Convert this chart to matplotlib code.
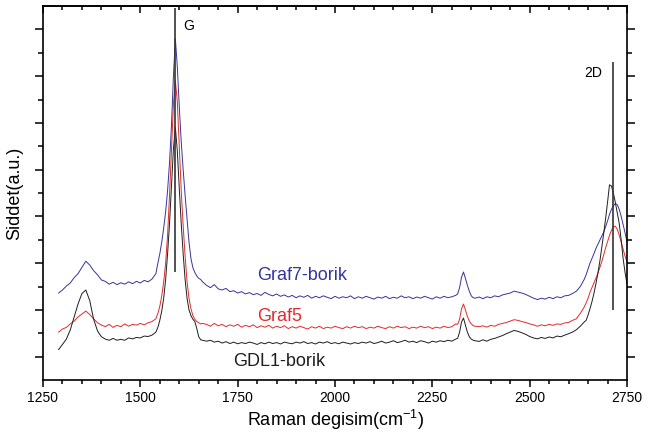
import numpy as np
import matplotlib
matplotlib.use("Agg")
import matplotlib.pyplot as plt
from matplotlib.ticker import MultipleLocator, FixedLocator

plt.rcParams['font.family'] = ['Liberation Sans', 'DejaVu Sans']
plt.rcParams['mathtext.fontset'] = 'custom'
plt.rcParams['mathtext.rm'] = 'Liberation Sans'

# Raman shift grid (cm^-1)
wavenumber = [
    1290, 1300, 1310, 1320, 1330, 1340, 1350, 1360, 1370, 1380, 1390, 1400, 1410,
    1420, 1430, 1440, 1450, 1460, 1470, 1480, 1490, 1500, 1510, 1520, 1530, 1540,
    1545, 1550, 1555, 1560, 1565, 1570, 1575, 1580, 1585, 1590, 1595, 1600, 1605,
    1610, 1615, 1620, 1625, 1630, 1635, 1640, 1645, 1650, 1655, 1660,
    1670, 1680, 1690, 1700, 1710, 1720, 1730, 1740, 1750, 1760, 1770, 1780, 1790,
    1800, 1810, 1820, 1830, 1840, 1850, 1860, 1870, 1880, 1890, 1900, 1910, 1920,
    1930, 1940, 1950, 1960, 1970, 1980, 1990, 2000, 2010, 2020, 2030, 2040, 2050,
    2060, 2070, 2080, 2090, 2100, 2110, 2120, 2130, 2140, 2150, 2160, 2170, 2180,
    2190, 2200, 2210, 2220, 2230, 2240, 2250, 2260, 2270, 2280, 2290, 2300, 2310,
    2315, 2320, 2325, 2330, 2335, 2340, 2345, 2350, 2355, 2360,
    2370, 2380, 2390, 2400, 2410, 2420, 2430, 2440, 2450, 2460, 2470, 2480, 2490,
    2500, 2510, 2520, 2530, 2540, 2550, 2560, 2570, 2580, 2590, 2600, 2610, 2620,
    2630, 2640,
    2645, 2650, 2655, 2660, 2665, 2670, 2675, 2680, 2685, 2690, 2695, 2700, 2705,
    2710, 2715, 2720, 2725, 2730, 2735, 2740, 2745, 2750,
]

graf7_borik = [
    3.72, 3.85, 4.02, 4.15, 4.38, 4.55, 4.82, 5.08, 4.92, 4.68, 4.50, 4.28, 4.22,
    4.10, 4.18, 4.08, 4.16, 4.10, 4.20, 4.12, 4.22, 4.15, 4.26, 4.20, 4.32, 4.55,
    5.00, 5.40, 5.90, 6.50, 7.20, 8.10, 9.30, 10.90, 13.00, 14.60, 13.40, 11.70, 10.20,
    9.00, 7.90, 6.90, 5.90, 5.20, 4.80, 4.60, 4.45, 4.35, 4.30, 4.20,
    4.05, 3.95, 4.08, 3.90, 3.85, 3.92, 3.78, 3.82, 3.72, 3.78, 3.68, 3.74, 3.65,
    3.70, 3.62, 3.75, 3.66, 3.60, 3.68, 3.58, 3.64, 3.55, 3.62, 3.52, 3.60, 3.54,
    3.62, 3.50, 3.58, 3.52, 3.60, 3.54, 3.48, 3.58, 3.50, 3.56, 3.52, 3.60, 3.48,
    3.56, 3.50, 3.58, 3.52, 3.46, 3.55, 3.50, 3.58, 3.48, 3.54, 3.50, 3.60, 3.52,
    3.56, 3.48, 3.55, 3.50, 3.58, 3.52, 3.46, 3.56, 3.50, 3.58, 3.52, 3.56, 3.62,
    3.68, 3.95, 4.40, 4.62, 4.35, 4.05, 3.80, 3.60, 3.52, 3.50,
    3.55, 3.48, 3.56, 3.52, 3.60, 3.56, 3.64, 3.68, 3.72, 3.80, 3.76, 3.72, 3.66,
    3.58, 3.50, 3.44, 3.50, 3.46, 3.54, 3.48, 3.56, 3.52, 3.60, 3.62, 3.70, 3.80,
    4.00, 4.30,
    4.50, 4.75, 5.00, 5.20, 5.40, 5.62, 5.80, 5.98, 6.15, 6.32, 6.55, 6.80, 7.08,
    7.30, 7.45, 7.55, 7.50, 7.30, 7.00, 6.65, 6.30, 5.90,
]

graf5 = [
    2.05, 2.18, 2.25, 2.40, 2.52, 2.70, 2.82, 2.95, 2.80, 2.62, 2.45, 2.35, 2.28,
    2.38, 2.25, 2.34, 2.28, 2.40, 2.30, 2.38, 2.35, 2.42, 2.36, 2.45, 2.50, 2.62,
    2.85, 3.15, 3.60, 4.20, 5.00, 6.20, 7.90, 9.80, 11.80, 12.80, 11.90, 10.00, 8.10,
    6.60, 5.30, 4.20, 3.50, 3.05, 2.75, 2.60, 2.50, 2.45, 2.40, 2.42,
    2.38, 2.30, 2.42, 2.32, 2.38, 2.28, 2.36, 2.30, 2.38, 2.26, 2.34, 2.28, 2.36,
    2.24, 2.32, 2.26, 2.34, 2.22, 2.30, 2.24, 2.32, 2.20, 2.28, 2.22, 2.30, 2.24,
    2.18, 2.28, 2.22, 2.30, 2.20, 2.26, 2.22, 2.30, 2.24, 2.20, 2.28, 2.22, 2.30,
    2.24, 2.28, 2.20, 2.26, 2.22, 2.30, 2.24, 2.20, 2.28, 2.22, 2.30, 2.24, 2.28,
    2.20, 2.26, 2.22, 2.30, 2.24, 2.28, 2.20, 2.26, 2.22, 2.30, 2.24, 2.28, 2.40,
    2.38, 2.60, 3.05, 3.25, 3.00, 2.72, 2.52, 2.40, 2.32, 2.30,
    2.28, 2.32, 2.26, 2.34, 2.30, 2.38, 2.42, 2.46, 2.52, 2.58, 2.55, 2.50, 2.46,
    2.40, 2.36, 2.30, 2.36, 2.32, 2.38, 2.34, 2.40, 2.38, 2.44, 2.46, 2.55, 2.62,
    2.85, 3.12,
    3.30, 3.50, 3.75, 3.95, 4.15, 4.35, 4.55, 4.80, 5.05, 5.35, 5.65, 5.92, 6.18,
    6.40, 6.55, 6.58, 6.45, 6.20, 5.90, 5.60, 5.30, 5.05,
]

gdl1_borik = [
    1.30, 1.52, 1.75, 2.14, 2.70, 3.25, 3.70, 3.85, 3.40, 2.60, 2.10, 1.85, 1.75,
    1.70, 1.78, 1.70, 1.74, 1.70, 1.80, 1.76, 1.82, 1.80, 1.88, 1.86, 1.92, 2.05,
    2.25, 2.55, 2.95, 3.50, 4.30, 5.40, 6.70, 8.30, 9.90, 10.80, 9.80, 8.20, 6.70,
    5.40, 4.30, 3.50, 3.00, 2.75, 2.60, 2.50, 2.20, 1.85, 1.72, 1.70,
    1.66, 1.70, 1.62, 1.66, 1.58, 1.64, 1.56, 1.62, 1.55, 1.60, 1.56, 1.62, 1.58,
    1.52, 1.60, 1.55, 1.62, 1.56, 1.60, 1.54, 1.62, 1.58, 1.55, 1.62, 1.58, 1.64,
    1.56, 1.60, 1.54, 1.62, 1.58, 1.64, 1.56, 1.60, 1.55, 1.62, 1.58, 1.54, 1.60,
    1.56, 1.62, 1.58, 1.64, 1.56, 1.60, 1.66, 1.58, 1.62, 1.68, 1.60, 1.64, 1.70,
    1.62, 1.66, 1.60, 1.68, 1.64, 1.58, 1.66, 1.62, 1.68, 1.64, 1.70, 1.66, 1.75,
    1.78, 2.05, 2.48, 2.65, 2.35, 2.05, 1.85, 1.75, 1.70, 1.68,
    1.65, 1.72, 1.66, 1.74, 1.78, 1.84, 1.90, 1.98, 2.05, 2.12, 2.08, 2.02, 1.95,
    1.86, 1.80, 1.76, 1.82, 1.78, 1.84, 1.80, 1.88, 1.85, 1.92, 1.98, 2.05, 2.15,
    2.30, 2.48,
    2.55, 2.78, 3.05, 3.35, 3.70, 4.10, 4.55, 5.05, 5.65, 6.25, 6.90, 7.60, 8.35,
    8.30, 8.00, 7.60, 7.15, 6.70, 6.00, 5.20, 4.60, 4.10,
]

series_names = ["Graf7-borik", "Graf5", "GDL1-borik"]
series_label_x = [1915, 1859, 1857]
series_label_y = [4.45, 2.71, 0.81]

band_names = ["G", "2D"]
band_positions = [1589, 2714]
band_line_bottom = [4.62, 3.0]
band_line_top = [15.9, 13.6]
band_label_x = [1610, 2686]
band_label_y = [15.15, 13.13]
band_label_ha = ["left", "right"]

colors = ["#34349c", "#e22a2c", "#1e1e1e"]

fig = plt.figure(figsize=(6.62, 4.34), dpi=100)
ax = fig.add_axes([43 / 662, 54 / 434, 584 / 662, 374 / 434])

x = np.array(wavenumber)
for ys, c in zip([graf7_borik, graf5, gdl1_borik], colors):
    ax.plot(x, np.array(ys), color=c, lw=0.7)

ax.vlines(band_positions, band_line_bottom, band_line_top, color="#333333", lw=1.2)
for name, bx, by, ha in zip(band_names, band_label_x, band_label_y, band_label_ha):
    ax.text(bx, by, name, fontsize=10, ha=ha, va="center", color="black")

for name, lx, ly, c in zip(series_names, series_label_x, series_label_y, colors):
    ax.text(lx, ly, name, fontsize=13, ha="center", va="center", color=c)

ax.set_xlim(1250, 2750)
ax.set_ylim(0, 16)
ax.xaxis.set_major_locator(MultipleLocator(250))
ax.xaxis.set_minor_locator(MultipleLocator(50))
ax.yaxis.set_major_locator(FixedLocator([1, 3, 5, 7, 9, 11, 13, 15]))
ax.yaxis.set_minor_locator(FixedLocator([2, 4, 6, 8, 10, 12, 14]))

ax.tick_params(axis="x", which="both", direction="out", bottom=True, top=False,
               labelsize=10, width=1.1, pad=3)
ax.tick_params(axis="x", which="major", length=5)
ax.tick_params(axis="x", which="minor", length=3)
ax.tick_params(axis="y", which="both", direction="out", left=True, right=True,
               labelleft=False, width=1.1)
ax.tick_params(axis="y", which="major", length=6)
ax.tick_params(axis="y", which="minor", length=3.5)

sec = ax.secondary_xaxis("top")
sec.xaxis.set_major_locator(MultipleLocator(250))
sec.xaxis.set_minor_locator(MultipleLocator(50))
sec.tick_params(axis="x", which="both", direction="in", labeltop=False, width=1.1)
sec.tick_params(axis="x", which="major", length=5)
sec.tick_params(axis="x", which="minor", length=3)
sec.spines["top"].set_linewidth(1.2)

for s in ax.spines.values():
    s.set_linewidth(1.2)

ax.set_xlabel("Raman degisim(cm$^{-1}$)", fontsize=13, labelpad=2)
ax.set_ylabel("Siddet(a.u.)", fontsize=13, labelpad=8)

fig.savefig("out.png", dpi=100)
